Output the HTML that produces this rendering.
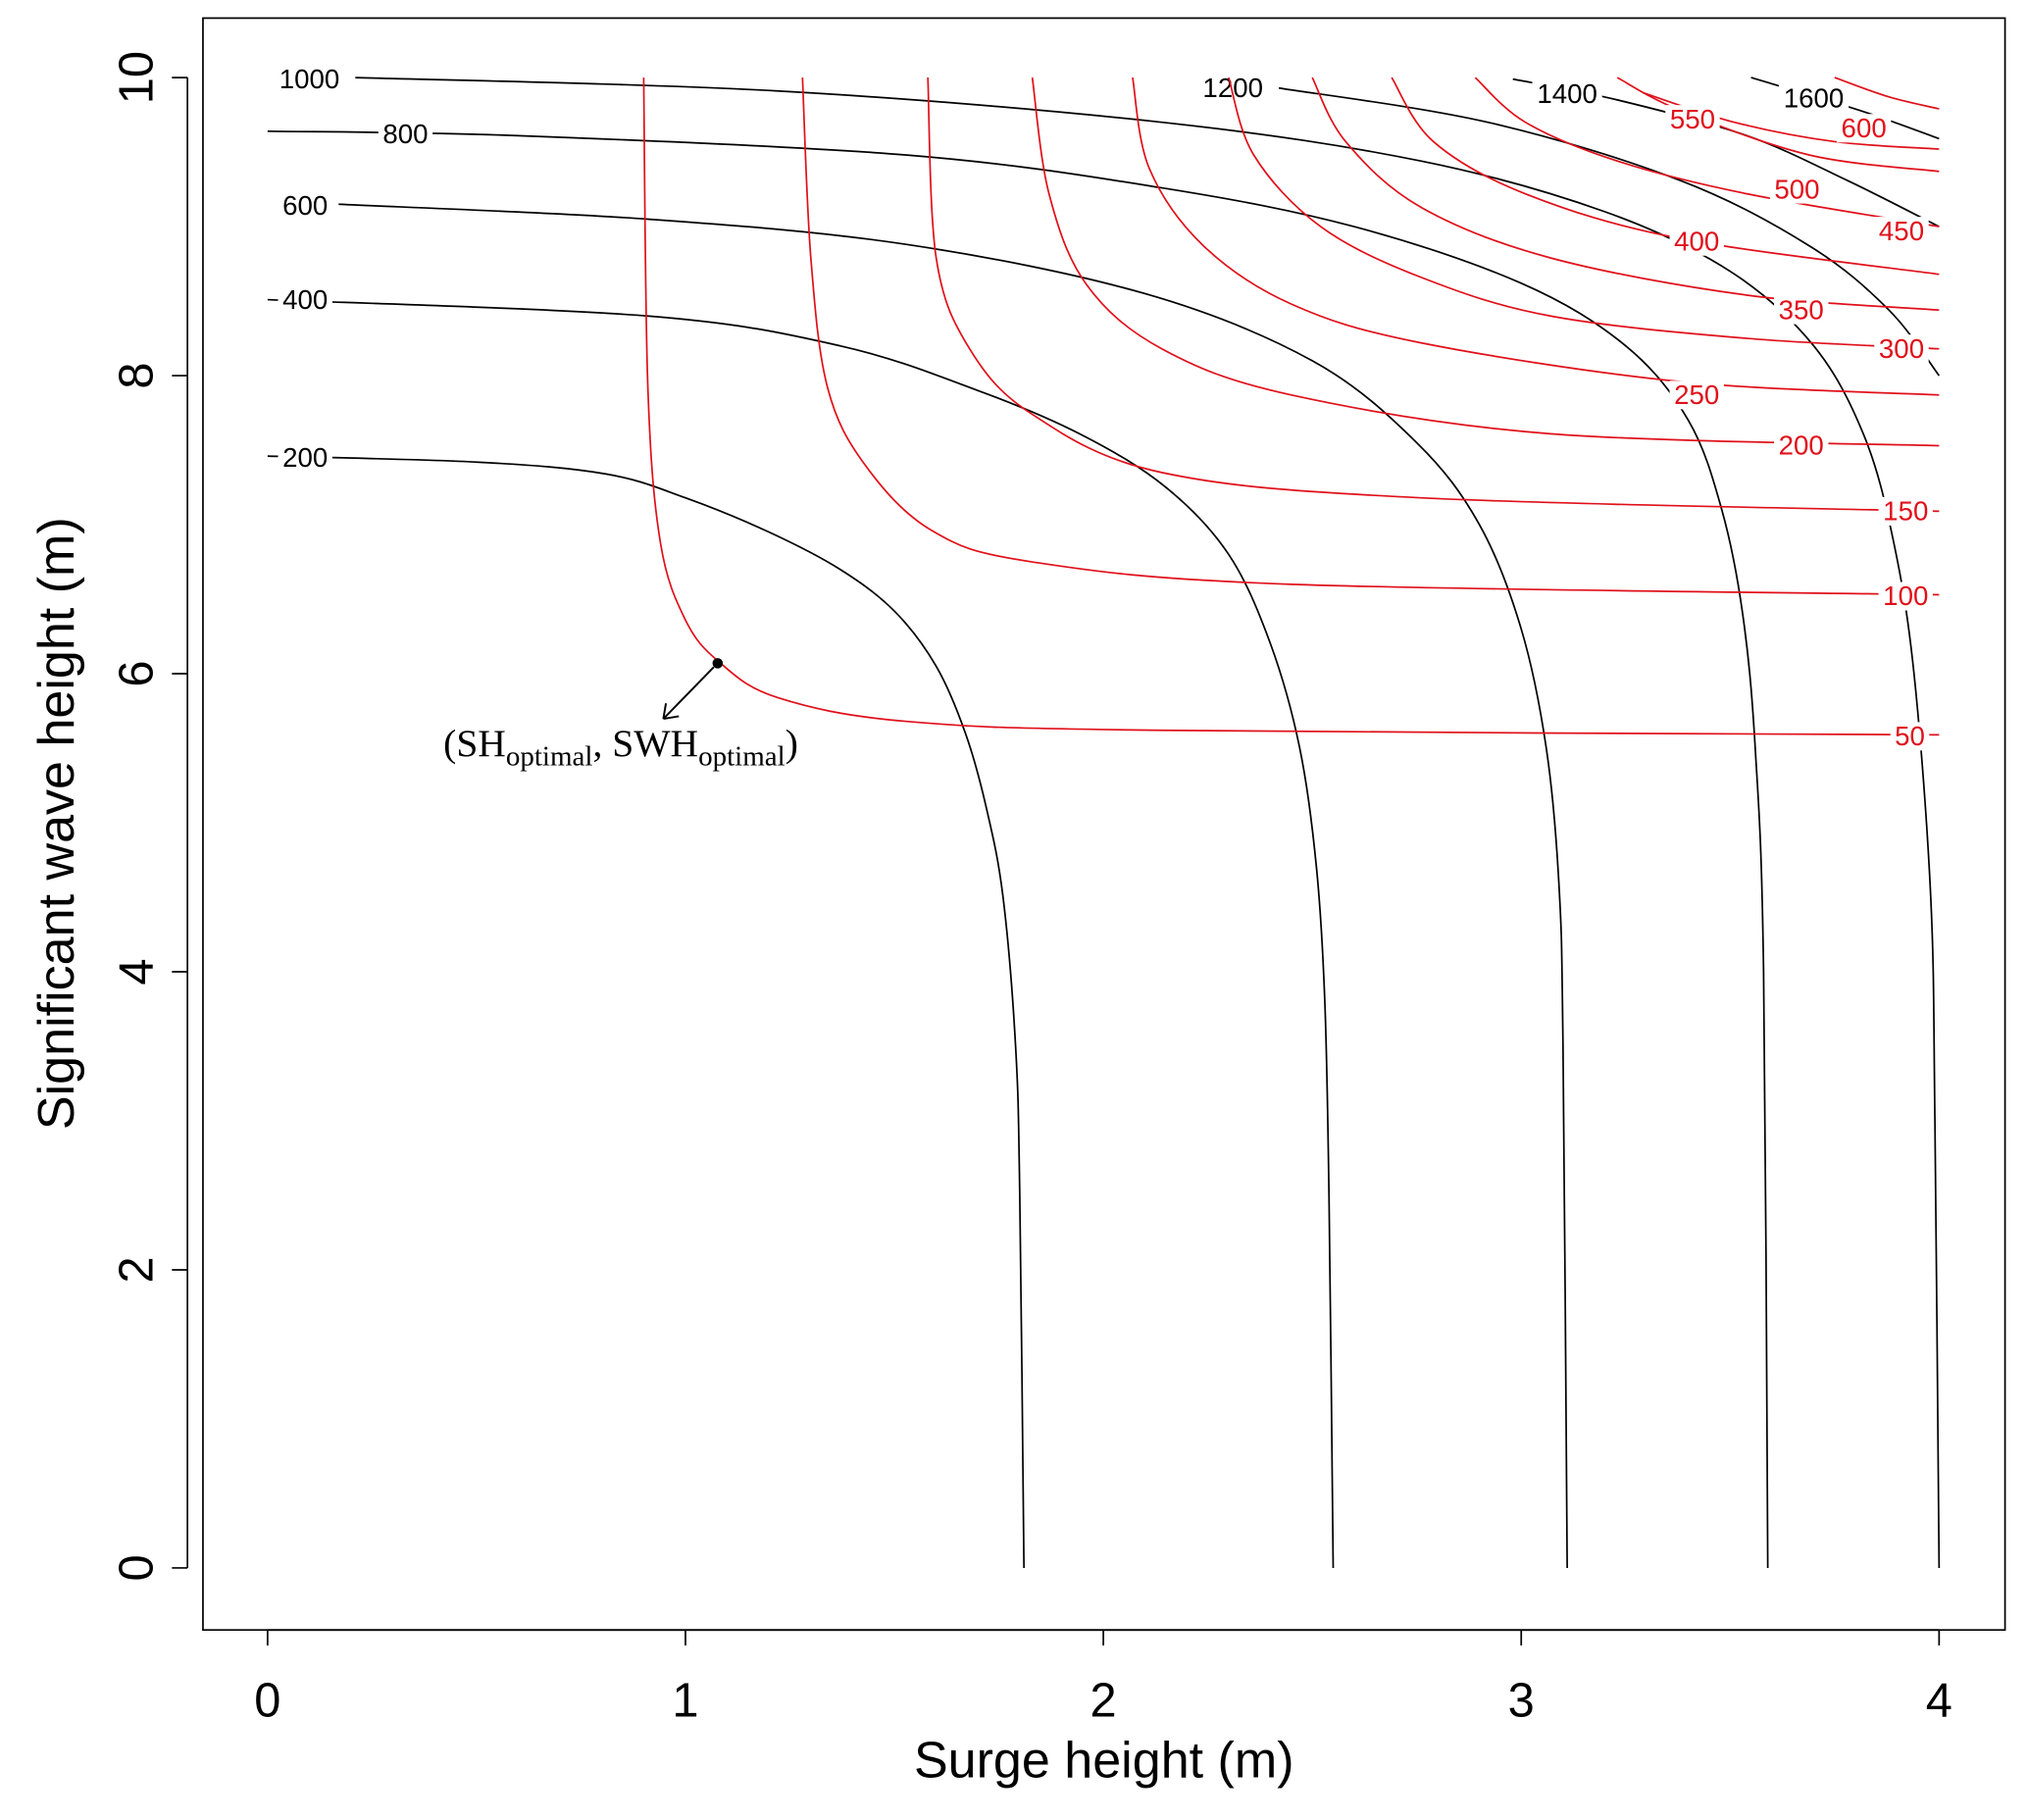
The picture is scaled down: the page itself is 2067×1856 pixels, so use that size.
<!DOCTYPE html>
<html><head><meta charset="utf-8"><style>
html,body{margin:0;padding:0;background:#fff;}
svg{display:block;}
text{font-family:"Liberation Sans",sans-serif;}
</style></head>
<body>
<svg id="chart" width="2067" height="1856" viewBox="0 0 1568 1408" preserveAspectRatio="none" xmlns="http://www.w3.org/2000/svg">
<rect x="0" y="0" width="1568" height="1408" fill="#fff"/>
<g id="marks"></g>
<rect x="157" y="14" width="1394" height="1247" fill="none" stroke="#000" stroke-width="1.3"/>
<g id="axes"></g>
<text x="854" y="1375" font-size="39.5" text-anchor="middle">Surge height (m)</text>
<text x="57" y="637" font-size="39.5" text-anchor="middle" transform="rotate(-90 57 637)">Significant wave height (m)</text>
</svg>
<script>
const xTicks=[0,1,2,3,4];
const yTicks=[0,2,4,6,8,10];
// black contours (cost levels)
const blackLevels=[200,400,600,800,1000,1200,1400,1600];
const black200=[[0,7.46],[0.5,7.42],[0.81,7.34],[1.0,7.18],[1.2,6.95],[1.37,6.7],[1.5,6.42],[1.6,6.05],[1.67,5.6],[1.72,5.1],[1.76,4.5],[1.79,3.5],[1.80,2.5],[1.81,0]];
const black400=[[0,8.51],[0.91,8.4],[1.37,8.2],[1.7,7.9],[1.95,7.6],[2.15,7.25],[2.3,6.8],[2.4,6.2],[2.47,5.5],[2.51,4.7],[2.53,3.8],[2.54,2.5],[2.55,0]];
const black600=[[0.17,9.15],[0.91,9.05],[1.53,8.88],[2.1,8.55],[2.5,8.1],[2.75,7.55],[2.9,7.0],[3.0,6.3],[3.06,5.5],[3.09,4.6],[3.10,3.5],[3.11,0]];
const black800=[[0,9.64],[0.6,9.61],[1.53,9.48],[2.14,9.26],[2.6,9.0],[3.0,8.62],[3.25,8.2],[3.4,7.7],[3.48,7.1],[3.53,6.4],[3.56,5.5],[3.58,4.0],[3.59,0]];
const black1000=[[0.21,10],[1.22,9.91],[2.14,9.70],[2.76,9.44],[3.2,9.1],[3.5,8.7],[3.7,8.2],[3.82,7.6],[3.89,6.9],[3.94,6.0],[3.98,4.5],[3.99,3.0],[4,0]];
const black1200=[[2.42,9.93],[2.92,9.70],[3.38,9.31],[3.69,8.87],[3.88,8.44],[4,8.0]];
const black1400=[[2.98,9.99],[3.23,9.85],[3.54,9.61],[3.78,9.31],[4,9.0]];
const black1600=[[3.55,10],[3.81,9.78],[4,9.59]];
const blackLines=[black200,black400,black600,black800,black1000,black1200,black1400,black1600];
const blackLabelPos=[[0.09,7.45],[0.09,8.51],[0.09,9.14],[0.33,9.62],[0.10,9.99],[2.31,9.93],[3.11,9.89],[3.70,9.86]];
// red contours
const redLevels=[50,100,150,200,250,300,350,400,450,500,550,600];
const red50=[[0.90,10],[0.91,7.92],[0.94,6.88],[1.0,6.36],[1.08,6.08],[1.22,5.84],[1.53,5.68],[2.14,5.62],[4,5.59]];
const red100=[[1.28,10],[1.30,8.79],[1.34,7.92],[1.43,7.4],[1.59,6.96],[1.83,6.75],[2.45,6.6],[4,6.53]];
const red150=[[1.58,10],[1.60,8.79],[1.68,8.18],[1.83,7.74],[2.14,7.35],[2.76,7.18],[4,7.09]];
const red200=[[1.83,10],[1.87,9.22],[1.96,8.61],[2.14,8.18],[2.45,7.87],[3.07,7.61],[4,7.53]];
const red250=[[2.07,10],[2.11,9.39],[2.24,8.87],[2.45,8.48],[2.76,8.22],[3.38,7.96],[4,7.87]];
const red300=[[2.30,10],[2.36,9.48],[2.52,9.0],[2.76,8.66],[3.07,8.40],[3.54,8.25],[4,8.18]];
const red350=[[2.50,10],[2.58,9.57],[2.76,9.13],[3.07,8.79],[3.54,8.54],[4,8.44]];
const red400=[[2.69,10],[2.79,9.57],[3.01,9.22],[3.38,8.92],[4,8.68]];
const red450=[[2.89,10],[3.01,9.70],[3.23,9.44],[3.54,9.22],[4,9.0]];
const red500=[[3.23,10],[3.38,9.78],[3.69,9.48],[4,9.37]];
const red550=[[3.29,9.90],[3.51,9.70],[3.75,9.57],[4,9.52]];
const red600=[[3.75,10],[3.88,9.87],[4,9.79]];
const redLines=[red50,red100,red150,red200,red250,red300,red350,red400,red450,red500,red550,red600];
const redLabelPos=[[3.93,5.58],[3.92,6.52],[3.92,7.09],[3.67,7.53],[3.42,7.87],[3.91,8.18],[3.67,8.44],[3.42,8.90],[3.91,8.97],[3.66,9.25],[3.41,9.72],[3.82,9.66]];
const optimalPoint=[1.077,6.07];

const X0=207,XS=323.25,Y0=1213,YS=115.3;
function x(v){return X0+v*XS;}
function y(v){return Y0-v*YS;}
const NS="http://www.w3.org/2000/svg";
const marks=document.getElementById('marks');
const axes=document.getElementById('axes');
function mk(tag,attrs,parent){const e=document.createElementNS(NS,tag);for(const k in attrs)e.setAttribute(k,attrs[k]);parent.appendChild(e);return e;}
function smoothPath(pts){
  const p=pts.map(d=>[x(d[0]),y(d[1])]);
  let s='M'+p[0][0]+','+p[0][1];
  for(let i=0;i<p.length-1;i++){
    const p0=p[i-1]||p[i],p1=p[i],p2=p[i+1],p3=p[i+2]||p2;
    const c1=[p1[0]+(p2[0]-p0[0])/6,p1[1]+(p2[1]-p0[1])/6];
    const c2=[p2[0]-(p3[0]-p1[0])/6,p2[1]-(p3[1]-p1[1])/6];
    s+=' C'+c1[0]+','+c1[1]+' '+c2[0]+','+c2[1]+' '+p2[0]+','+p2[1];
  }
  return s;
}
function drawSet(lines,levels,pos,color,kind){
  lines.forEach((pts,i)=>{
    const path=mk('path',{d:smoothPath(pts),fill:'none',stroke:color,'stroke-width':1.3},marks);
    
    
  });
  lines.forEach((pts,i)=>{
    const lx=x(pos[i][0]),ly=y(pos[i][1]);
    const w=String(levels[i]).length*12+6;
    const bg=mk('rect',{x:lx-w/2,y:ly-11,width:w,height:22,fill:'#fff'},marks);
    
    
    const t=mk('text',{x:lx,y:ly+7,'font-size':21,'text-anchor':'middle',fill:color},marks);
    
    
    t.textContent=levels[i];
  });
}
drawSet(blackLines,blackLevels,blackLabelPos,'#000','black');
drawSet(redLines,redLevels,redLabelPos,'#e0101a','red');

// optimal point + arrow + annotation
const dot=mk('circle',{cx:x(optimalPoint[0]),cy:y(optimalPoint[1]),r:4,fill:'#000'},marks);


const ax1=x(optimalPoint[0])-3,ay1=y(optimalPoint[1])+3,ax2=ax1-39,ay2=ay1+40;
const arr=mk('line',{x1:ax1,y1:ay1,x2:ax2,y2:ay2,stroke:'#000','stroke-width':1.5},marks);


const head=mk('path',{d:'M'+ax2+','+ay2+' l12,-2 M'+ax2+','+ay2+' l2,-12',stroke:'#000','stroke-width':1.5,fill:'none'},marks);


const ann=mk('text',{x:343,y:585,'font-size':30,style:'font-family:"Liberation Serif",serif'},marks);


ann.innerHTML='(SH<tspan font-size="22" dy="7">optimal</tspan><tspan dy="-7">, SWH</tspan><tspan font-size="22" dy="7">optimal</tspan><tspan dy="-7">)</tspan>';

// axes
const xl=mk('line',{x1:x(xTicks[0]),y1:1261,x2:x(xTicks[xTicks.length-1]),y2:1261,stroke:'#000','stroke-width':1.3},axes);


xTicks.forEach(v=>{
  const t=mk('line',{x1:x(v),y1:1261,x2:x(v),y2:1273,stroke:'#000','stroke-width':1.3},axes);
  
  
  const l=mk('text',{x:x(v),y:1328,'font-size':37,'text-anchor':'middle'},axes);
  
  
  l.textContent=v;
});
const yl=mk('line',{x1:145,y1:y(yTicks[0]),x2:145,y2:y(yTicks[yTicks.length-1]),stroke:'#000','stroke-width':1.3},axes);


yTicks.forEach(v=>{
  const t=mk('line',{x1:133,y1:y(v),x2:145,y2:y(v),stroke:'#000','stroke-width':1.3},axes);
  
  
  const l=mk('text',{x:118,y:y(v),'font-size':37,'text-anchor':'middle',transform:'rotate(-90 118 '+y(v)+')'},axes);
  
  
  l.textContent=v;
});
</script>
</body></html>
